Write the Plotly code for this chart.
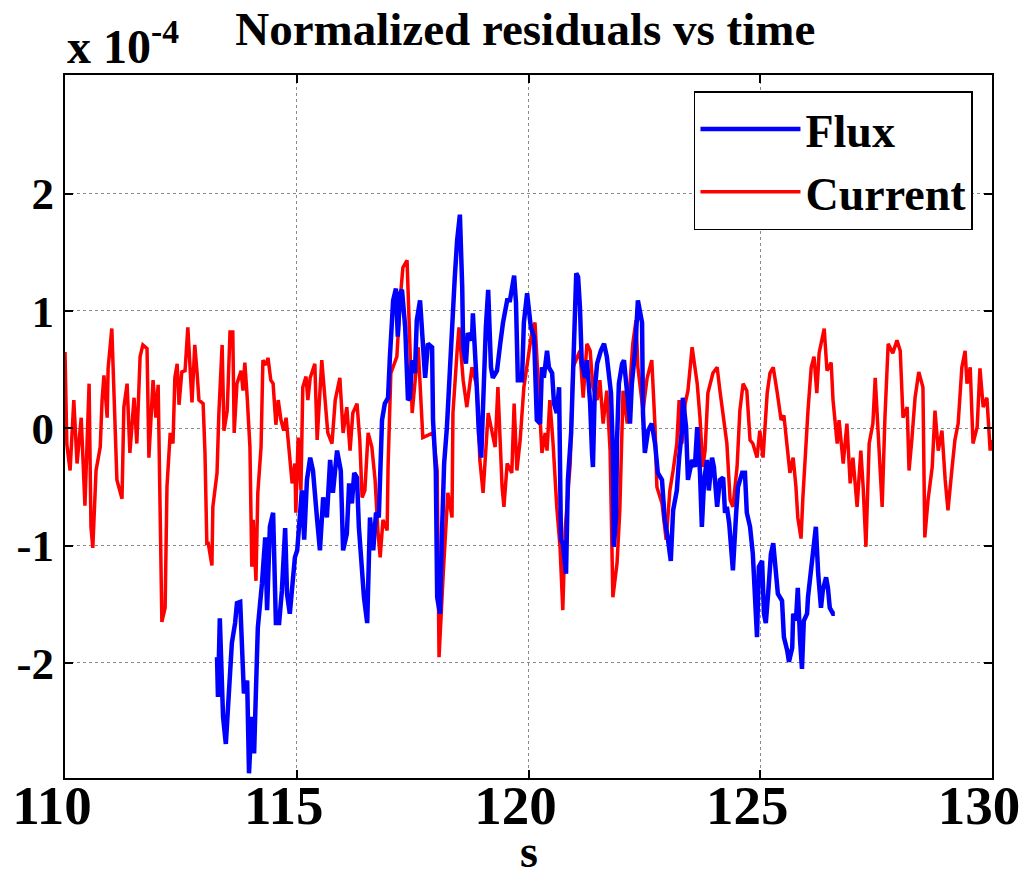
import plotly.graph_objects as go

# Values in units of 1e-4 (axis shows "x 10^-4")
current_t = [110.00, 110.02, 110.04, 110.11, 110.15, 110.19, 110.26, 110.35, 110.43, 110.47,
             110.52, 110.56, 110.60, 110.67, 110.76, 110.80, 110.84, 110.91, 110.93, 111.01,
             111.08, 111.12, 111.23, 111.27, 111.34, 111.40, 111.49, 111.55, 111.62, 111.68,
             111.77, 111.81, 111.90, 111.96, 112.01, 112.05, 112.09, 112.16, 112.20, 112.27,
             112.33, 112.37, 112.42, 112.46, 112.52, 112.59, 112.65, 112.74, 112.80, 112.85,
             112.89, 112.98, 113.02, 113.06, 113.09, 113.17, 113.19, 113.28, 113.32, 113.39,
             113.43, 113.50, 113.56, 113.62, 113.65, 113.71, 113.80, 113.84, 113.88, 113.93,
             113.99, 114.03, 114.06, 114.12, 114.16, 114.23, 114.27, 114.34, 114.38, 114.44,
             114.49, 114.55, 114.60, 114.66, 114.72, 114.77, 114.85, 114.90, 114.96, 114.98,
             115.03, 115.09, 115.13, 115.20, 115.24, 115.29, 115.39, 115.44, 115.54, 115.61,
             115.67, 115.76, 115.83, 115.93, 116.00, 116.08, 116.15, 116.21, 116.30, 116.36,
             116.41, 116.47, 116.54, 116.62, 116.69, 116.75, 116.80, 116.86, 116.95, 116.97,
             117.01, 117.03, 117.16, 117.23, 117.29, 117.38, 117.49, 117.62, 117.72, 117.94,
             118.03, 118.07, 118.16, 118.26, 118.35, 118.37, 118.46, 118.50, 118.59, 118.67,
             118.78, 118.89, 118.95, 119.02, 119.13, 119.28, 119.34, 119.43, 119.47, 119.54,
             119.64, 119.69, 119.75, 119.82, 119.90, 119.99, 120.08, 120.14, 120.20, 120.29,
             120.36, 120.40, 120.46, 120.53, 120.61, 120.68, 120.74, 120.79, 120.90, 120.96,
             121.11, 121.18, 121.26, 121.33, 121.39, 121.48, 121.54, 121.61, 121.69, 121.76,
             121.82, 121.91, 121.97, 122.04, 122.13, 122.19, 122.25, 122.32, 122.36, 122.47,
             122.56, 122.66, 122.73, 122.77, 122.88, 122.97, 123.05, 123.12, 123.20, 123.25,
             123.31, 123.38, 123.44, 123.53, 123.57, 123.64, 123.70, 123.76, 123.81, 123.87,
             123.98, 124.07, 124.13, 124.20, 124.28, 124.35, 124.41, 124.50, 124.56, 124.63,
             124.71, 124.78, 124.84, 124.93, 124.99, 125.06, 125.15, 125.21, 125.28, 125.36,
             125.43, 125.45, 125.51, 125.58, 125.64, 125.71, 125.77, 125.81, 125.88, 125.92,
             125.99, 126.03, 126.10, 126.16, 126.22, 126.27, 126.38, 126.44, 126.53, 126.57,
             126.66, 126.70, 126.79, 126.87, 126.94, 127.00, 127.09, 127.17, 127.22, 127.28,
             127.35, 127.43, 127.48, 127.52, 127.58, 127.63, 127.69, 127.76, 127.86, 127.95,
             128.02, 128.08, 128.17, 128.21, 128.27, 128.34, 128.42, 128.51, 128.55, 128.62,
             128.71, 128.77, 128.84, 128.92, 128.99, 129.05, 129.14, 129.20, 129.27, 129.35,
             129.42, 129.46, 129.53, 129.59, 129.68, 129.74, 129.81, 129.89, 129.96, 130.00]
current_v = [0.65, 0.35, -0.14, -0.36, -0.04, 0.24, -0.30, 0.09, -0.66, -0.10,
             0.38, -0.84, -1.02, -0.36, -0.16, 0.24, 0.45, 0.09, 0.51, 0.85,
             0.13, -0.44, -0.60, 0.18, 0.38, -0.21, 0.26, -0.13, 0.61, 0.71,
             0.68, -0.25, 0.41, 0.09, 0.37, -0.67, -1.65, -1.53, -0.50, -0.04,
             -0.13, 0.43, 0.55, 0.20, 0.48, 0.49, 0.86, 0.22, 0.71, 0.47,
             0.24, 0.21, -0.21, -0.98, -0.98, -1.17, -0.67, -0.38, 0.13, 0.71,
             -0.02, 0.15, 0.82, 0.82, -0.04, 0.38, 0.49, 0.32, 0.56, 0.27,
             -0.16, -1.18, -0.78, -1.30, -0.55, -0.16, 0.58, 0.54, 0.60, 0.41,
             0.38, 0.03, 0.24, 0.07, -0.02, 0.09, -0.30, -0.47, -0.30, -0.72,
             -0.08, -0.53, 0.35, 0.44, 0.24, 0.43, 0.55, -0.10, 0.58, 0.24,
             -0.04, -0.13, 0.24, 0.43, -0.04, 0.18, -0.19, 0.13, 0.21, -0.10,
             -0.59, -0.53, -0.04, -0.16, -0.44, -0.87, -1.10, -0.78, -0.87, -0.33,
             0.13, 0.47, 0.61, 1.09, 1.37, 1.43, 0.13, 0.69, -0.08, -0.04,
             -0.36, -1.95, -1.24, -0.55, -0.76, 0.13, 0.66, 0.86, 0.41, 0.18,
             0.52, 0.35, -0.27, -0.55, 0.13, -0.16, 0.35, -0.50, -0.67, -0.30,
             -0.38, 0.21, -0.36, -0.10, 0.35, 0.61, 0.84, 0.90, 0.41, -0.21,
             -0.04, -0.19, 0.24, -0.13, -0.67, -1.01, -1.55, -0.87, -0.30, 0.52,
             0.66, 0.26, 0.72, 0.66, 0.35, 0.24, 0.41, 0.04, 0.32, -0.19,
             -1.44, -1.15, -0.70, 0.32, 0.04, 0.38, 0.72, 0.92, 0.52, 0.15,
             0.43, 0.58, 0.01, -0.50, -0.64, -0.95, -0.53, -0.36, -0.13, 0.24,
             -0.13, 0.21, 0.32, 0.69, 0.58, 0.38, 0.09, -0.33, -0.19, 0.30,
             0.47, 0.52, 0.32, 0.09, -0.13, -0.61, -0.67, -0.33, 0.15, 0.38,
             0.32, -0.10, -0.13, -0.25, -0.02, -0.25, 0.30, 0.47, 0.52, 0.32,
             0.15, 0.07, 0.11, -0.16, -0.38, -0.25, -0.50, -0.76, -0.94, -0.59,
             -0.04, 0.15, 0.52, 0.61, 0.30, 0.64, 0.85, 0.49, 0.56, 0.24,
             -0.13, 0.07, -0.30, 0.04, -0.47, -0.25, -0.67, -0.19, -0.50, -1.01,
             -0.13, 0.04, 0.43, 0.13, -0.33, -0.67, 0.09, 0.72, 0.64, 0.75,
             0.66, 0.09, 0.18, -0.36, -0.10, 0.26, 0.48, 0.35, -0.93, -0.61,
             -0.33, 0.15, -0.19, -0.02, -0.44, -0.70, -0.33, -0.10, 0.04, 0.52,
             0.66, 0.38, 0.52, -0.13, 0.01, 0.51, 0.18, 0.26, -0.19, -0.10]

flux_t = [113.28, 113.30, 113.34, 113.39, 113.41, 113.47, 113.52, 113.56, 113.60, 113.67,
          113.71, 113.78, 113.82, 113.86, 113.93, 113.97, 114.03, 114.08, 114.12, 114.16,
          114.25, 114.32, 114.36, 114.42, 114.49, 114.55, 114.62, 114.68, 114.75, 114.79,
          114.85, 114.92, 114.96, 115.01, 115.05, 115.11, 115.16, 115.22, 115.29, 115.35,
          115.44, 115.50, 115.57, 115.65, 115.72, 115.78, 115.87, 115.95, 116.00, 116.08,
          116.13, 116.19, 116.24, 116.30, 116.34, 116.41, 116.45, 116.52, 116.54, 116.58,
          116.65, 116.71, 116.77, 116.84, 116.90, 116.97, 117.01, 117.08, 117.14, 117.18,
          117.23, 117.27, 117.34, 117.40, 117.44, 117.49, 117.55, 117.59, 117.66, 117.72,
          117.77, 117.83, 117.92, 117.94, 118.00, 118.03, 118.09, 118.13, 118.18, 118.24,
          118.28, 118.35, 118.37, 118.41, 118.46, 118.52, 118.57, 118.59, 118.65, 118.69,
          118.78, 118.80, 118.87, 118.93, 118.98, 119.02, 119.08, 119.13, 119.19, 119.23,
          119.32, 119.39, 119.45, 119.54, 119.60, 119.69, 119.73, 119.77, 119.86, 119.90,
          119.97, 120.05, 120.12, 120.18, 120.25, 120.29, 120.33, 120.40, 120.44, 120.51,
          120.55, 120.61, 120.66, 120.70, 120.74, 120.81, 120.85, 120.92, 120.96, 121.03,
          121.07, 121.11, 121.15, 121.22, 121.26, 121.33, 121.37, 121.39, 121.43, 121.48,
          121.56, 121.63, 121.69, 121.78, 121.82, 121.84, 121.89, 121.91, 121.95, 122.02,
          122.06, 122.13, 122.19, 122.23, 122.30, 122.36, 122.45, 122.47, 122.51, 122.58,
          122.66, 122.73, 122.79, 122.88, 122.94, 123.01, 123.07, 123.12, 123.20, 123.25,
          123.31, 123.33, 123.40, 123.44, 123.53, 123.59, 123.64, 123.70, 123.74, 123.79,
          123.85, 123.89, 123.96, 124.00, 124.07, 124.13, 124.20, 124.24, 124.28, 124.33,
          124.39, 124.41, 124.48, 124.52, 124.61, 124.67, 124.71, 124.78, 124.84, 124.89,
          124.93, 124.97, 125.04, 125.08, 125.12, 125.17, 125.23, 125.28, 125.34, 125.38,
          125.47, 125.51, 125.58, 125.62, 125.69, 125.71, 125.77, 125.81, 125.86, 125.90,
          125.94, 126.01, 126.03, 126.10, 126.14, 126.20, 126.25, 126.31, 126.35, 126.42,
          126.46, 126.50, 126.57, 126.61]
flux_v = [-1.95, -2.29, -1.62, -2.32, -2.46, -2.69, -2.40, -2.12, -1.83, -1.66,
          -1.49, -1.48, -1.92, -2.26, -2.15, -2.94, -2.46, -2.77, -2.23, -1.70,
          -1.32, -0.93, -1.55, -0.84, -0.72, -1.66, -1.66, -1.38, -0.85, -1.41,
          -1.58, -1.32, -1.10, -1.04, -0.87, -0.53, -0.95, -0.44, -0.25, -0.36,
          -0.78, -1.04, -0.59, -0.76, -0.27, -0.55, -0.19, -0.36, -1.04, -0.90,
          -0.47, -0.64, -0.38, -0.42, -0.84, -1.27, -1.44, -1.66, -1.32, -0.76,
          -1.04, -0.72, -0.76, 0.07, 0.21, 0.26, 0.61, 1.09, 1.19, 0.78,
          1.15, 1.18, 0.86, 0.24, 0.26, 0.58, 0.47, 0.92, 1.09, 0.75,
          0.43, 0.72, 0.69, 0.07, -0.36, -1.44, -1.58, -0.93, -0.30, 0.01,
          0.35, 0.81, 1.12, 1.29, 1.60, 1.82, 1.20, 0.69, 0.55, 0.81,
          0.75, 0.98, 0.47, -0.04, -0.25, 0.32, 0.86, 1.18, 0.52, 0.43,
          0.49, 0.72, 0.90, 1.09, 1.09, 1.30, 1.07, 0.41, 0.41, 0.90,
          1.15, 0.86, 0.78, 0.07, 0.04, 0.52, 0.43, 0.66, 0.52, 0.47,
          0.21, 0.13, 0.35, -0.95, -0.98, -1.24, -0.44, -0.04, 0.43, 1.32,
          1.29, 1.03, 0.55, 0.43, 0.58, 0.21, -0.21, -0.33, 0.32, 0.55,
          0.66, 0.72, 0.61, 0.30, -0.19, -1.01, -0.76, -0.10, 0.38, 0.55,
          0.58, 0.32, 0.04, 0.38, 0.66, 1.09, 0.90, 0.13, -0.21, -0.02,
          0.04, -0.13, -0.38, -0.44, -0.78, -0.95, -1.13, -0.70, -0.53, -0.25,
          -0.02, 0.26, 0.01, -0.44, -0.27, -0.33, 0.01, -0.38, -0.84, -0.44,
          -0.27, -0.53, -0.25, -0.33, -0.67, -0.44, -0.42, -0.72, -0.67, -0.81,
          -1.07, -1.21, -0.72, -0.50, -0.38, -0.38, -0.72, -0.84, -1.07, -1.58,
          -1.78, -1.18, -1.13, -1.58, -1.66, -1.41, -1.07, -0.98, -1.24, -1.41,
          -1.47, -1.78, -1.89, -1.99, -1.87, -1.58, -1.64, -1.36, -1.81, -2.05,
          -1.64, -1.58, -1.44, -1.21, -1.01, -0.84, -1.24, -1.53, -1.38, -1.27,
          -1.36, -1.53, -1.58, -1.58]

x_ticks = [110, 115, 120, 125, 130]
y_ticks = [-2, -1, 0, 1, 2]

FONT = "Liberation Serif, Times New Roman, serif"

fig = go.Figure()
fig.add_trace(go.Scatter(x=current_t, y=current_v, mode="lines", name="Current",
                         line=dict(color="#ff0000", width=3.5), legendrank=2))
fig.add_trace(go.Scatter(x=flux_t, y=flux_v, mode="lines", name="Flux",
                         line=dict(color="#0000ff", width=4.5), legendrank=1))

axis_common = dict(
    showline=True, linecolor="black", linewidth=2, mirror="allticks",
    ticks="inside", ticklen=8, tickwidth=1.5, tickcolor="black",
    showgrid=True, gridcolor="#8a8a8a", griddash="dot", gridwidth=1,
    zeroline=False, automargin=False, ticklabeloverflow="allow",
)

fig.update_xaxes(range=[110, 130], tickvals=x_ticks,
                 ticktext=[str(v) for v in x_ticks],
                 tickfont=dict(family=FONT, size=55, color="black", weight="bold"),
                 ticklabelstandoff=-22, ticklabelshift=-13,
                 **axis_common)
fig.update_yaxes(range=[-2.98, 3.01], tickvals=y_ticks, ticktext=[str(v) for v in y_ticks],
                 tickfont=dict(family=FONT, size=45, color="black", weight="bold"),
                 **axis_common)

fig.update_layout(
    width=1030, height=882,
    margin=dict(l=65, r=38, t=75, b=104),
    paper_bgcolor="white", plot_bgcolor="white",
    title=dict(text="Normalized residuals vs time", x=0.510, xanchor="center",
               y=0.968, yanchor="middle",
               font=dict(family=FONT, size=47, color="black", weight="bold")),
    legend=dict(x=0.6785, y=0.977, xanchor="left", yanchor="top",
                bordercolor="black", borderwidth=1.5, bgcolor="white",
                font=dict(family=FONT, size=46, color="black", weight="bold"),
                itemwidth=100, tracegroupgap=0),
    annotations=[
        dict(text="x 10<sup>-4</sup>", xref="paper", yref="paper",
             x=0.0, y=1.0, xanchor="left", yanchor="bottom", showarrow=False,
             font=dict(family=FONT, size=48, color="black", weight="bold")),
        dict(text="s", xref="paper", yref="paper",
             x=0.5, y=-0.143, xanchor="center", yanchor="bottom", showarrow=False,
             font=dict(family=FONT, size=46, color="black", weight="bold")),
    ],
    showlegend=True,
)

fig.write_html("out.html")
